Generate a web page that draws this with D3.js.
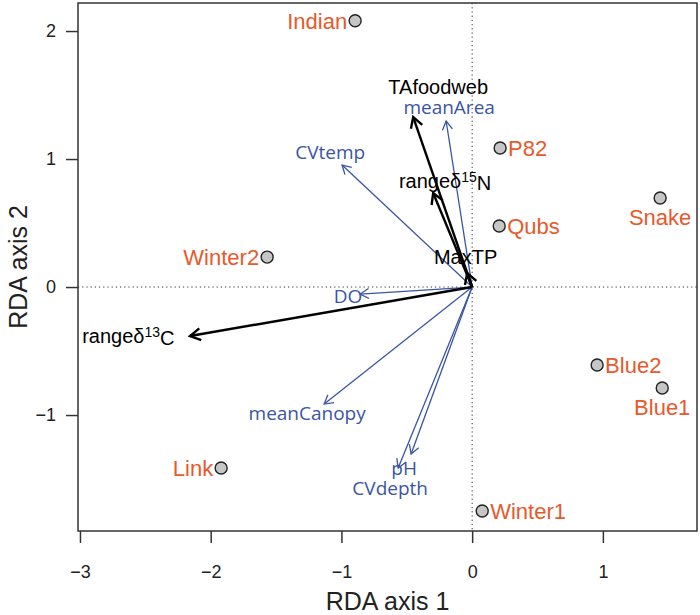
<!DOCTYPE html>
<html>
<head>
<meta charset="utf-8">
<script src="https://cdn.jsdelivr.net/npm/d3@7"></script>
<style>
  body { margin: 0; background: #fff; }
  svg text { font-family: "Liberation Sans", Arial, sans-serif; }
  .tick text { font-size: 18px; fill: #222; }
  .tick line { stroke: #333; stroke-width: 1.5; }
</style>
</head>
<body>
<svg width="700" height="615"></svg>
<script>
'use strict'

// sites (RDA scores)
const siteNames = ['Indian', 'P82', 'Qubs', 'Snake', 'Winter2', 'Blue2', 'Blue1', 'Link', 'Winter1']
const siteX = [-0.895, 0.214, 0.207, 1.438, -1.568, 0.956, 1.454, -1.92, 0.077]
const siteY = [2.08, 1.086, 0.477, 0.695, 0.234, -0.609, -0.789, -1.414, -1.75]

// food web response vectors (black)
const respNames = ['TAfoodweb', 'range15N', 'MaxTP', 'range13C']
const respX = [-0.451, -0.298, -0.038, -2.158]
const respY = [1.328, 0.734, 0.109, -0.383]
const respLabX = [-0.26, -0.207, -0.05, -2.63]
const respLabY = [1.56, 0.828, 0.234, -0.383]

// environmental vectors (blue)
const envNames = ['meanArea', 'CVtemp', 'DO', 'meanCanopy', 'pH', 'CVdepth']
const envX = [-0.199, -0.995, -0.857, -1.132, -0.566, -0.467]
const envY = [1.297, 0.953, -0.055, -0.914, -1.414, -1.305]
const envLabX = [-0.176, -1.086, -0.949, -1.262, -0.52, -0.627]
const envLabY = [1.405, 1.055, -0.07, -0.984, -1.42, -1.575]

const xTicks = [-3, -2, -1, 0, 1]
const yTicks = [-1, 0, 1, 2]

const orange = '#e8592b'
const blue = '#3a55a4'

const svg = d3.select('svg')

const pLeft = 78, pRight = 697, pTop = 3, pBottom = 531

const x = d3.scaleLinear().domain([-3.015, 1.72]).range([pLeft, pRight])
const y = d3.scaleLinear().domain([-1.906, 2.219]).range([pBottom, pTop])

const fmt = (d) => d < 0 ? '\u2212' + Math.abs(d) : String(d)

// axes
const xAxis = svg.append('g')
    .attr('transform', `translate(0, ${pBottom})`)
    .call(d3.axisBottom(x).tickValues(xTicks).tickSize(12).tickPadding(22).tickFormat(fmt))
xAxis.select('.domain').remove()

const yAxis = svg.append('g')
    .attr('transform', `translate(${pLeft}, 0)`)
    .call(d3.axisLeft(y).tickValues(yTicks).tickSize(12).tickPadding(10).tickFormat(fmt))
yAxis.select('.domain').remove()

// zero lines
svg.append('line')
    .attr('x1', x(0)).attr('x2', x(0))
    .attr('y1', pTop).attr('y2', pBottom)
    .attr('stroke', '#333').attr('stroke-dasharray', '1.2,3')
svg.append('line')
    .attr('x1', pLeft).attr('x2', pRight)
    .attr('y1', y(0)).attr('y2', y(0))
    .attr('stroke', '#333').attr('stroke-dasharray', '1.2,3')

// box
svg.append('rect')
    .attr('x', pLeft).attr('y', pTop)
    .attr('width', pRight - pLeft).attr('height', pBottom - pTop)
    .attr('fill', 'none').attr('stroke', '#333').attr('stroke-width', 1.5)

// axis titles
svg.append('text')
    .attr('x', (pLeft + pRight) / 2)
    .attr('y', 610)
    .attr('text-anchor', 'middle')
    .attr('font-size', 25)
    .attr('fill', '#222')
    .text('RDA axis 1')

svg.append('text')
    .attr('transform', `translate(27, ${(pTop + pBottom) / 2}) rotate(-90)`)
    .attr('text-anchor', 'middle')
    .attr('font-size', 25)
    .attr('fill', '#222')
    .text('RDA axis 2')

// arrow helper (R style open arrowhead)
function arrow(g, x1, y1, color, width, len) {
    const x0 = x(0), y0 = y(0)
    const ang = Math.atan2(y1 - y0, x1 - x0)
    const a = Math.PI / 6
    g.append('line')
        .attr('x1', x0).attr('y1', y0)
        .attr('x2', x1).attr('y2', y1)
        .attr('stroke', color).attr('stroke-width', width)
    const p1 = [x1 - len * Math.cos(ang - a), y1 - len * Math.sin(ang - a)]
    const p2 = [x1 - len * Math.cos(ang + a), y1 - len * Math.sin(ang + a)]
    g.append('path')
        .attr('d', `M${p1[0]},${p1[1]}L${x1},${y1}L${p2[0]},${p2[1]}`)
        .attr('fill', 'none')
        .attr('stroke', color).attr('stroke-width', width)
        .attr('stroke-linejoin', 'miter')
}

const arrows = svg.append('g')

envNames.forEach((n, i) => {
    arrow(arrows, x(envX[i]), y(envY[i]), blue, 1.3, 10)
})
respNames.forEach((n, i) => {
    arrow(arrows, x(respX[i]), y(respY[i]), '#000', 2.4, 12)
})

// env labels
svg.append('g').selectAll('text')
    .data(envNames)
    .enter()
    .append('text')
    .attr('x', (d, i) => x(envLabX[i]))
    .attr('y', (d, i) => y(envLabY[i]))
    .attr('dy', '0.35em')
    .attr('text-anchor', 'middle')
    .attr('font-size', 19)
    .style('font-family', '"Open Sans", sans-serif')
    .attr('fill', blue)
    .text((d) => d)

// response labels (with delta superscripts)
const respLabels = svg.append('g').selectAll('text')
    .data(respNames)
    .enter()
    .append('text')
    .attr('x', (d, i) => x(respLabX[i]))
    .attr('y', (d, i) => y(respLabY[i]))
    .attr('dy', '0.35em')
    .attr('text-anchor', 'middle')
    .attr('font-size', 20)
    .attr('fill', '#000')

respLabels.each(function(d) {
    const t = d3.select(this)
    const m = d.match(/^range(\d+)([A-Z])$/)
    if (m) {
        t.append('tspan').text('range\u03b4')
        t.append('tspan').attr('dy', '-0.4em').attr('font-size', 14).text(m[1])
        t.append('tspan').attr('dy', '0.4em').text(m[2])
    } else {
        t.text(d)
    }
})

// sites
const sitePos = { Indian: 'left', P82: 'right', Qubs: 'right', Snake: 'below', Winter2: 'left',
    Blue2: 'right', Blue1: 'below', Link: 'left', Winter1: 'right' }

const sites = svg.append('g')

sites.selectAll('circle')
    .data(siteNames)
    .enter()
    .append('circle')
    .attr('cx', (d, i) => x(siteX[i]))
    .attr('cy', (d, i) => y(siteY[i]))
    .attr('r', 6)
    .attr('fill', '#c6c6c6')
    .attr('stroke', '#222')
    .attr('stroke-width', 1.4)

sites.selectAll('text')
    .data(siteNames)
    .enter()
    .append('text')
    .attr('x', (d, i) => {
        const cx = x(siteX[i])
        if (sitePos[d] === 'left') return cx - 8
        if (sitePos[d] === 'right') return cx + 8
        return cx
    })
    .attr('y', (d, i) => {
        const cy = y(siteY[i])
        if (sitePos[d] === 'below') return cy + 19
        return cy
    })
    .attr('dy', '0.36em')
    .attr('text-anchor', (d) => sitePos[d] === 'left' ? 'end' : sitePos[d] === 'right' ? 'start' : 'middle')
    .attr('font-size', 22)
    .attr('fill', orange)
    .text((d) => d)
</script>
</body>
</html>
